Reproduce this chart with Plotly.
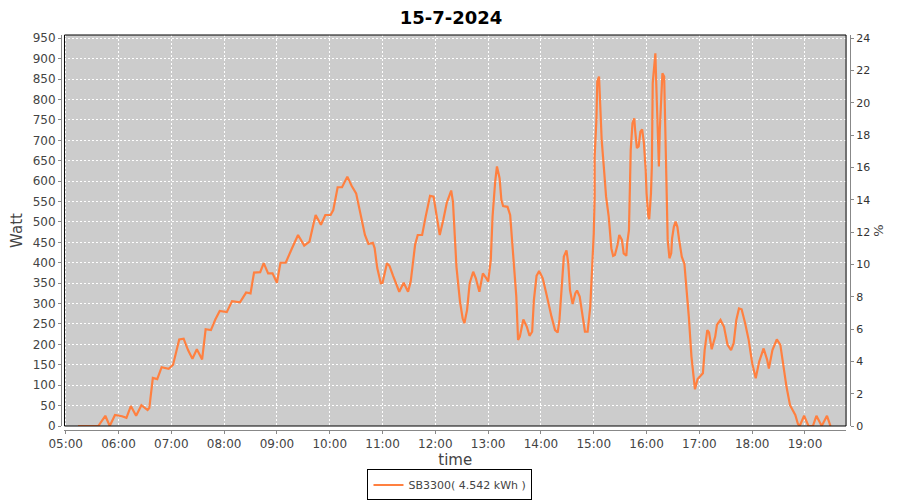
import pandas as pd
import plotly.graph_objects as go

day = "2024-07-15"
title_text = "15-7-2024"
series_name = "SB3300( 4.542 kWh )"

times = [
    "05:14", "05:37", "05:45", "05:50", "05:56", "06:04", "06:09", "06:14", "06:20", "06:26",
    "06:33", "06:35", "06:39", "06:44", "06:49", "06:57", "07:02", "07:09", "07:14", "07:19",
    "07:24", "07:29", "07:35", "07:39", "07:45", "07:50", "07:55", "08:03", "08:09", "08:18",
    "08:25", "08:30", "08:34", "08:41", "08:45", "08:50", "08:55", "09:00", "09:04", "09:10",
    "09:17", "09:24", "09:31", "09:37", "09:41", "09:44", "09:50", "09:55", "10:01", "10:04",
    "10:09", "10:14", "10:20", "10:25", "10:30", "10:34", "10:40", "10:44", "10:49", "10:51",
    "10:54", "10:58", "11:00", "11:05", "11:08", "11:12", "11:19", "11:24", "11:29", "11:32",
    "11:37", "11:40", "11:45", "11:49", "11:54", "11:58", "12:01", "12:05", "12:09", "12:13",
    "12:18", "12:20", "12:24", "12:28", "12:31", "12:33", "12:36", "12:39", "12:43", "12:46",
    "12:50", "12:54", "12:58", "13:00", "13:03", "13:05", "13:08", "13:10", "13:13", "13:15",
    "13:17", "13:22", "13:25", "13:28", "13:32", "13:34", "13:36", "13:40", "13:44", "13:47",
    "13:50", "13:52", "13:55", "13:58", "14:02", "14:06", "14:10", "14:12", "14:16", "14:19",
    "14:21", "14:24", "14:26", "14:29", "14:31", "14:33", "14:36", "14:39", "14:41", "14:44",
    "14:48", "14:50", "14:53", "14:56", "14:58", "15:00", "15:01", "15:01", "15:03", "15:04",
    "15:06", "15:07", "15:09", "15:12", "15:14", "15:17", "15:19", "15:20", "15:22", "15:24",
    "15:27", "15:29", "15:32", "15:34", "15:37", "15:38", "15:40", "15:41", "15:42", "15:44",
    "15:46", "15:47", "15:49", "15:51", "15:53", "15:55", "15:57", "15:59", "16:00", "16:02",
    "16:03", "16:05", "16:06", "16:07", "16:09", "16:10", "16:11", "16:12", "16:14", "16:15",
    "16:17", "16:18", "16:20", "16:21", "16:23", "16:24", "16:26", "16:28", "16:29", "16:31",
    "16:33", "16:35", "16:37", "16:40", "16:43", "16:45", "16:48", "16:51", "16:53", "16:55",
    "16:58", "17:04", "17:06", "17:09", "17:11", "17:14", "17:18", "17:20", "17:24", "17:28",
    "17:32", "17:36", "17:39", "17:42", "17:45", "17:48", "17:52", "17:56", "18:00", "18:04",
    "18:08", "18:13", "18:17", "18:19", "18:23", "18:28", "18:32", "18:35", "18:39", "18:43",
    "18:49", "18:52", "18:54", "18:59", "19:04", "19:09", "19:13", "19:19", "19:25", "19:29",
]

watts = [
    0, 0, 25, 0, 27, 24, 20, 49, 25, 51,
    39, 44, 118, 115, 144, 140, 150, 212, 214, 186,
    165, 188, 163, 237, 235, 261, 282, 279, 306, 303,
    327, 325, 376, 377, 399, 374, 374, 351, 400, 400,
    435, 468, 442, 452, 490, 517, 493, 517, 517, 529,
    585, 585, 611, 588, 570, 531, 468, 446, 449, 436,
    387, 350, 351, 399, 392, 368, 329, 351, 329, 354,
    444, 468, 468, 513, 564, 562, 525, 468, 505, 547,
    577, 550, 390, 305, 264, 252, 284, 350, 378, 362,
    329, 374, 362, 354, 407, 513, 599, 636, 607, 554,
    539, 537, 517, 431, 317, 211, 219, 261, 243, 221,
    231, 309, 368, 380, 362, 325, 284, 268, 235, 229,
    260, 350, 415, 430, 399, 333, 299, 325, 332, 317,
    260, 231, 231, 292, 382, 472, 562, 660, 750, 844,
    856, 799, 701, 619, 562, 513, 472, 435, 417, 419,
    444, 468, 456, 423, 417, 448, 480, 578, 676, 742,
    754, 725, 681, 685, 721, 727, 693, 627, 570, 513,
    507, 570, 636, 840, 897, 913, 840, 750, 636, 725,
    807, 864, 856, 762, 546, 456, 411, 423, 460, 488,
    501, 488, 456, 415, 397, 350, 268, 170, 121, 90,
    115, 129, 186, 235, 229, 188, 219, 248, 260, 243,
    199, 186, 203, 260, 288, 286, 252, 211, 154, 117,
    158, 190, 162, 141, 186, 212, 199, 150, 96, 51,
    27, 5, 0, 25, 0, 0, 25, 0, 25, 0,
]

x = pd.to_datetime([f"{day} {t}" for t in times])

fig = go.Figure()
fig.add_trace(go.Scatter(
    x=x, y=watts, mode="lines", name=series_name,
    line=dict(color="#FF8040", width=2.2),
))
# empty trace so the right hand % axis gets drawn
fig.add_trace(go.Scatter(
    x=[x[0]], y=[None], yaxis="y2", showlegend=False, hoverinfo="skip",
))

grid = dict(showgrid=True, gridcolor="white", griddash="2px,2px", gridwidth=1)
tickfont = dict(family="DejaVu Sans", size=12, color="#444444")

# the page body has an 8px margin, so the figure is a bit smaller than the window
fig.update_layout(
    width=892, height=492,
    margin=dict(l=53, r=50, t=27, b=70, autoexpand=False),
    paper_bgcolor="white",
    plot_bgcolor="#CCCCCC",
    font=dict(family="DejaVu Sans", color="#444444"),
    title=dict(
        text=f"<b>{title_text}</b>", x=0.4966, xref="container", xanchor="center",
        y=0.981, yref="container", yanchor="middle",
        font=dict(family="DejaVu Sans", size=18, color="black"),
    ),
    xaxis=dict(
        type="date", domain=[0.0044, 0.995], anchor="free", position=0,
        range=[f"{day} 04:58:36", f"{day} 19:46:40"],
        tickformat="%H:%M", dtick=3600000, tick0=f"{day} 05:00",
        showline=True, linecolor="#888888", ticks="outside", tickcolor="#888888",
        ticklen=3, tickfont=tickfont, zeroline=False, automargin=False,
        title=dict(text="time", standoff=6,
                   font=dict(family="DejaVu Sans", size=15, color="#444444")),
        **grid,
    ),
    yaxis=dict(
        domain=[0.0101, 1], anchor="free", position=0,
        range=[0, 958], dtick=50, tick0=0,
        showline=True, linecolor="#888888", ticks="outside", tickcolor="#888888",
        ticklen=3, tickfont=tickfont, zeroline=False, automargin=False,
        title=dict(text="Watt", standoff=8,
                   font=dict(family="DejaVu Sans", size=15, color="#444444")),
        **grid,
    ),
    yaxis2=dict(
        overlaying="y", side="right", anchor="free", position=1,
        range=[0, 24.2], dtick=2, tick0=0, showgrid=False, zeroline=False,
        showline=True, linecolor="#888888", ticks="outside", tickcolor="#888888",
        ticklen=3, tickfont=dict(family="DejaVu Sans", size=11, color="#333333"),
        automargin=False,
        title=dict(text="%", standoff=4,
                   font=dict(family="DejaVu Sans", size=13, color="#444444")),
    ),
    showlegend=True,
    legend=dict(
        orientation="h", x=0.4955, xref="container", xanchor="center",
        y=0.0305, yref="container", yanchor="middle",
        bordercolor="black", borderwidth=1, bgcolor="white",
        font=dict(family="DejaVu Sans", size=11, color="#444444"),
        itemwidth=30, tracegroupgap=0,
    ),
    shapes=[dict(
        type="rect", xref="x domain", yref="y domain", x0=0, x1=1, y0=0, y1=1,
        line=dict(color="black", width=1), layer="above",
    )],
)

fig.write_html("out.html")
